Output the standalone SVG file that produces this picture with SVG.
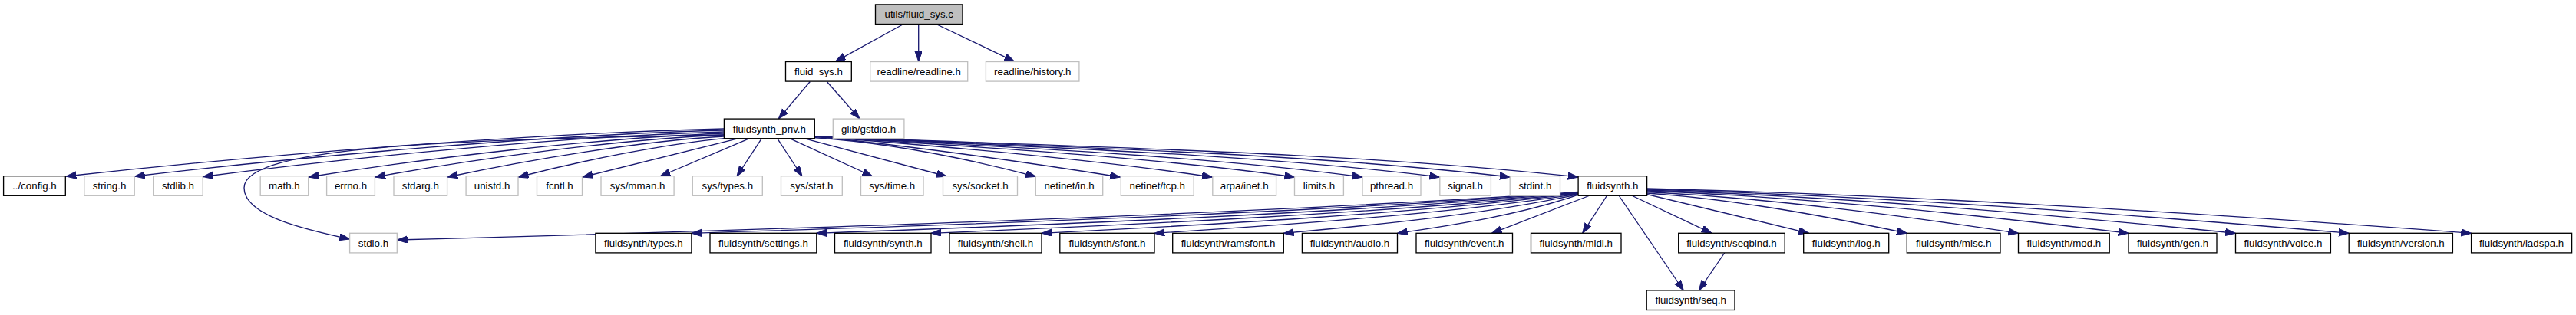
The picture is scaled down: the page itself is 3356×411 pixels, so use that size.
<svg xmlns="http://www.w3.org/2000/svg" width="3356" height="411" viewBox="0 0 3356 411">
<style>
.n rect{fill:#ffffff;stroke:#000000;stroke-width:1.33}
.u rect{fill:#ffffff;stroke:#bfbfbf;stroke-width:1.33}
.r rect{fill:#bfbfbf;stroke:#000000;stroke-width:1.33}
text{font-family:"Liberation Sans",Arial,Helvetica,sans-serif;font-size:13.3px;text-anchor:middle;fill:#000000}
.e path{fill:none;stroke:#191970;stroke-width:1.33;marker-end:url(#arr)}
</style>
<defs>
<marker id="arr" markerUnits="userSpaceOnUse" markerWidth="15" markerHeight="11" refX="13.3" refY="4.7" orient="auto">
<path d="M0,0 L13.3,4.7 L0,9.4 z" fill="#191970" stroke="#191970" stroke-width="1"/>
</marker>
</defs>
<rect x="0" y="0" width="3356" height="411" fill="#ffffff"/>
<g id="connectors" class="e">
<path d="M1176,32 L1088.3,80.3"/>
<path d="M1196.7,32 L1196.7,80.3"/>
<path d="M1220.7,32 L1321.7,80.3"/>
<path d="M1055.3,106.5 L1014.3,155"/>
<path d="M1077.3,106.5 L1120,155"/>
<path d="M943,168 C686,174 343,202 86,230"/>
<path d="M943,170 C713,176 406,203 175.5,230"/>
<path d="M943,172 C739,178 468,204 264.5,230.5"/>
<path d="M943,174 C781,180 564,205 402,231"/>
<path d="M943,176 C807,182 625,206 488.8,231"/>
<path d="M943,178 C835,184 691,208 583,231"/>
<path d="M946,180.3 C864,188 756,210 675.3,231"/>
<path d="M963,180.3 L759,231"/>
<path d="M977,180.3 L860,230"/>
<path d="M992.5,180.3 L960,230"/>
<path d="M1012.5,180.3 L1045,230"/>
<path d="M1028.3,180.3 L1136.7,230"/>
<path d="M1046.7,180.3 L1233.3,230"/>
<path d="M943,176 C600,182 318,190 318,245 C318,282 400,300 455.6,312"/>
<path d="M1060,179.5 C1161,186.5 1263,207.6 1349.5,230.3"/>
<path d="M1061.3,178 C1200.4,192 1339.8,212.1 1459.3,231"/>
<path d="M1061.3,178 C1242.4,192 1423.8,207.9 1579.3,231"/>
<path d="M1061.3,178 C1280,192 1499,204.7 1686.7,231"/>
<path d="M1061.3,178 C1310.9,192 1560.8,202.5 1775,231"/>
<path d="M1061.3,178 C1345.9,192 1630.8,200.5 1875.5,231"/>
<path d="M1061.3,178 C1378.2,192 1695.4,199.1 1967.2,231"/>
<path d="M1061.3,178 C1409.3,192 1757.5,198 2056,231"/>
<path d="M2056,254 C1985.4,279.2 1891.2,294.2 1820.5,304.3"/>
<path d="M2056,253.5 C1940.9,278.9 1787.4,294.1 1672.3,304.3"/>
<path d="M2056,253 C1890.4,278.7 1669.6,294 1504,304.3"/>
<path d="M2056,252.5 C1846.3,278.4 1566.7,293.9 1357,304.3"/>
<path d="M2056,252 C1803.1,278.2 1465.9,293.8 1213,304.3"/>
<path d="M2056,251.5 C1758.3,277.9 1361.5,293.7 1063.8,304.3"/>
<path d="M2056,251 C1709.5,277.7 1247.4,293.6 900.9,304.3"/>
<path d="M2056,250.5 C1594.4,281.8 978.9,300.5 517.3,313"/>
<path d="M2070,255.5 L1943.5,304.3"/>
<path d="M2093.3,255.5 L2061.7,304.3"/>
<path d="M2109.3,255.5 L2193.3,379"/>
<path d="M2126.7,255.5 L2230,304.3"/>
<path d="M2246.7,330 L2213.3,379"/>
<path d="M2145.6,253.5 L2356.7,304.3"/>
<path d="M2145.6,252 C2257.4,259.8 2372.5,280.8 2484.3,304.3"/>
<path d="M2145.6,250.5 C2305.3,258.6 2469.8,280.1 2629.5,304.3"/>
<path d="M2145.6,249 C2352.6,257.3 2566,279.4 2773,304.3"/>
<path d="M2145.6,248 C2398.7,256.4 2659.4,279 2912.5,304.3"/>
<path d="M2145.6,247 C2447.4,255.6 2758.4,278.5 3060.2,304.3"/>
<path d="M2145.6,246 C2500,254.7 2865.2,278.1 3219.6,304.3"/>
</g>
<g id="n_utils_fluid_sys_c" class="r"><rect x="1140.5" y="5.9" width="113.5" height="25.6"/><text x="1197.25" y="23.3">utils/fluid_sys.c</text></g>
<g id="n_fluid_sys_h" class="n"><rect x="1023.5" y="80.5" width="85.8" height="25.6"/><text x="1066.4" y="97.9">fluid_sys.h</text></g>
<g id="n_readline_h" class="u"><rect x="1133.7" y="80.5" width="127" height="25.6"/><text x="1197.2" y="97.9">readline/readline.h</text></g>
<g id="n_history_h" class="u"><rect x="1284.4" y="80.5" width="121.5" height="25.6"/><text x="1345.15" y="97.9">readline/history.h</text></g>
<g id="n_fluidsynth_priv_h" class="n"><rect x="943.4" y="155.1" width="117.9" height="25.6"/><text x="1002.35" y="172.5">fluidsynth_priv.h</text></g>
<g id="n_gstdio_h" class="u"><rect x="1085.3" y="155.1" width="92.6" height="25.6"/><text x="1131.6" y="172.5">glib/gstdio.h</text></g>
<g id="n_config_h" class="n"><rect x="4.6" y="229.7" width="80.7" height="25.6"/><text x="44.95" y="247.1">../config.h</text></g>
<g id="n_string_h" class="u"><rect x="109.8" y="229.7" width="65.4" height="25.6"/><text x="142.5" y="247.1">string.h</text></g>
<g id="n_stdlib_h" class="u"><rect x="199.7" y="229.7" width="64.5" height="25.6"/><text x="231.95" y="247.1">stdlib.h</text></g>
<g id="n_math_h" class="u"><rect x="339.2" y="229.7" width="62.5" height="25.6"/><text x="370.45" y="247.1">math.h</text></g>
<g id="n_errno_h" class="u"><rect x="425.6" y="229.7" width="62.8" height="25.6"/><text x="457" y="247.1">errno.h</text></g>
<g id="n_stdarg_h" class="u"><rect x="513" y="229.7" width="69.6" height="25.6"/><text x="547.8" y="247.1">stdarg.h</text></g>
<g id="n_unistd_h" class="u"><rect x="607.1" y="229.7" width="67.9" height="25.6"/><text x="641.05" y="247.1">unistd.h</text></g>
<g id="n_fcntl_h" class="u"><rect x="699.5" y="229.7" width="59" height="25.6"/><text x="729" y="247.1">fcntl.h</text></g>
<g id="n_sys_mman_h" class="u"><rect x="783" y="229.7" width="95.1" height="25.6"/><text x="830.55" y="247.1">sys/mman.h</text></g>
<g id="n_sys_types_h" class="u"><rect x="902.3" y="229.7" width="91" height="25.6"/><text x="947.8" y="247.1">sys/types.h</text></g>
<g id="n_sys_stat_h" class="u"><rect x="1017.5" y="229.7" width="79.8" height="25.6"/><text x="1057.4" y="247.1">sys/stat.h</text></g>
<g id="n_sys_time_h" class="u"><rect x="1121.5" y="229.7" width="81.5" height="25.6"/><text x="1162.25" y="247.1">sys/time.h</text></g>
<g id="n_sys_socket_h" class="u"><rect x="1228.5" y="229.7" width="97" height="25.6"/><text x="1277" y="247.1">sys/socket.h</text></g>
<g id="n_netinet_in_h" class="u"><rect x="1349.3" y="229.7" width="87.4" height="25.6"/><text x="1393" y="247.1">netinet/in.h</text></g>
<g id="n_netinet_tcp_h" class="u"><rect x="1460.3" y="229.7" width="94.9" height="25.6"/><text x="1507.75" y="247.1">netinet/tcp.h</text></g>
<g id="n_arpa_inet_h" class="u"><rect x="1579.8" y="229.7" width="82.8" height="25.6"/><text x="1621.2" y="247.1">arpa/inet.h</text></g>
<g id="n_limits_h" class="u"><rect x="1686.5" y="229.7" width="63.9" height="25.6"/><text x="1718.45" y="247.1">limits.h</text></g>
<g id="n_pthread_h" class="u"><rect x="1775" y="229.7" width="76" height="25.6"/><text x="1813" y="247.1">pthread.h</text></g>
<g id="n_signal_h" class="u"><rect x="1875.8" y="229.7" width="66.6" height="25.6"/><text x="1909.1" y="247.1">signal.h</text></g>
<g id="n_stdint_h" class="u"><rect x="1967.2" y="229.7" width="65.3" height="25.6"/><text x="1999.85" y="247.1">stdint.h</text></g>
<g id="n_fluidsynth_h" class="n"><rect x="2056.1" y="229.7" width="89.5" height="25.6"/><text x="2100.85" y="247.1">fluidsynth.h</text></g>
<g id="n_stdio_h" class="u"><rect x="455.6" y="304.3" width="61.7" height="25.6"/><text x="486.45" y="321.7">stdio.h</text></g>
<g id="n_fs_types_h" class="n"><rect x="775.9" y="304.3" width="125" height="25.6"/><text x="838.4" y="321.7">fluidsynth/types.h</text></g>
<g id="n_fs_settings_h" class="n"><rect x="925" y="304.3" width="138.8" height="25.6"/><text x="994.4" y="321.7">fluidsynth/settings.h</text></g>
<g id="n_fs_synth_h" class="n"><rect x="1087.5" y="304.3" width="125.5" height="25.6"/><text x="1150.25" y="321.7">fluidsynth/synth.h</text></g>
<g id="n_fs_shell_h" class="n"><rect x="1237" y="304.3" width="120" height="25.6"/><text x="1297" y="321.7">fluidsynth/shell.h</text></g>
<g id="n_fs_sfont_h" class="n"><rect x="1380.8" y="304.3" width="123.2" height="25.6"/><text x="1442.4" y="321.7">fluidsynth/sfont.h</text></g>
<g id="n_fs_ramsfont_h" class="n"><rect x="1527.7" y="304.3" width="144.6" height="25.6"/><text x="1600" y="321.7">fluidsynth/ramsfont.h</text></g>
<g id="n_fs_audio_h" class="n"><rect x="1696.4" y="304.3" width="124.1" height="25.6"/><text x="1758.45" y="321.7">fluidsynth/audio.h</text></g>
<g id="n_fs_event_h" class="n"><rect x="1845" y="304.3" width="125.5" height="25.6"/><text x="1907.75" y="321.7">fluidsynth/event.h</text></g>
<g id="n_fs_midi_h" class="n"><rect x="1994.5" y="304.3" width="117.5" height="25.6"/><text x="2053.25" y="321.7">fluidsynth/midi.h</text></g>
<g id="n_fs_seqbind_h" class="n"><rect x="2186.7" y="304.3" width="138.5" height="25.6"/><text x="2255.95" y="321.7">fluidsynth/seqbind.h</text></g>
<g id="n_fs_log_h" class="n"><rect x="2349.7" y="304.3" width="111" height="25.6"/><text x="2405.2" y="321.7">fluidsynth/log.h</text></g>
<g id="n_fs_misc_h" class="n"><rect x="2484.3" y="304.3" width="121.7" height="25.6"/><text x="2545.15" y="321.7">fluidsynth/misc.h</text></g>
<g id="n_fs_mod_h" class="n"><rect x="2629.5" y="304.3" width="118.7" height="25.6"/><text x="2688.85" y="321.7">fluidsynth/mod.h</text></g>
<g id="n_fs_gen_h" class="n"><rect x="2773" y="304.3" width="115" height="25.6"/><text x="2830.5" y="321.7">fluidsynth/gen.h</text></g>
<g id="n_fs_voice_h" class="n"><rect x="2912.5" y="304.3" width="123.9" height="25.6"/><text x="2974.45" y="321.7">fluidsynth/voice.h</text></g>
<g id="n_fs_version_h" class="n"><rect x="3060.2" y="304.3" width="135.2" height="25.6"/><text x="3127.8" y="321.7">fluidsynth/version.h</text></g>
<g id="n_fs_ladspa_h" class="n"><rect x="3219.6" y="304.3" width="131" height="25.6"/><text x="3285.1" y="321.7">fluidsynth/ladspa.h</text></g>
<g id="n_fs_seq_h" class="n"><rect x="2145.2" y="378.9" width="114.8" height="25.6"/><text x="2202.6" y="396.3">fluidsynth/seq.h</text></g>
</svg>
